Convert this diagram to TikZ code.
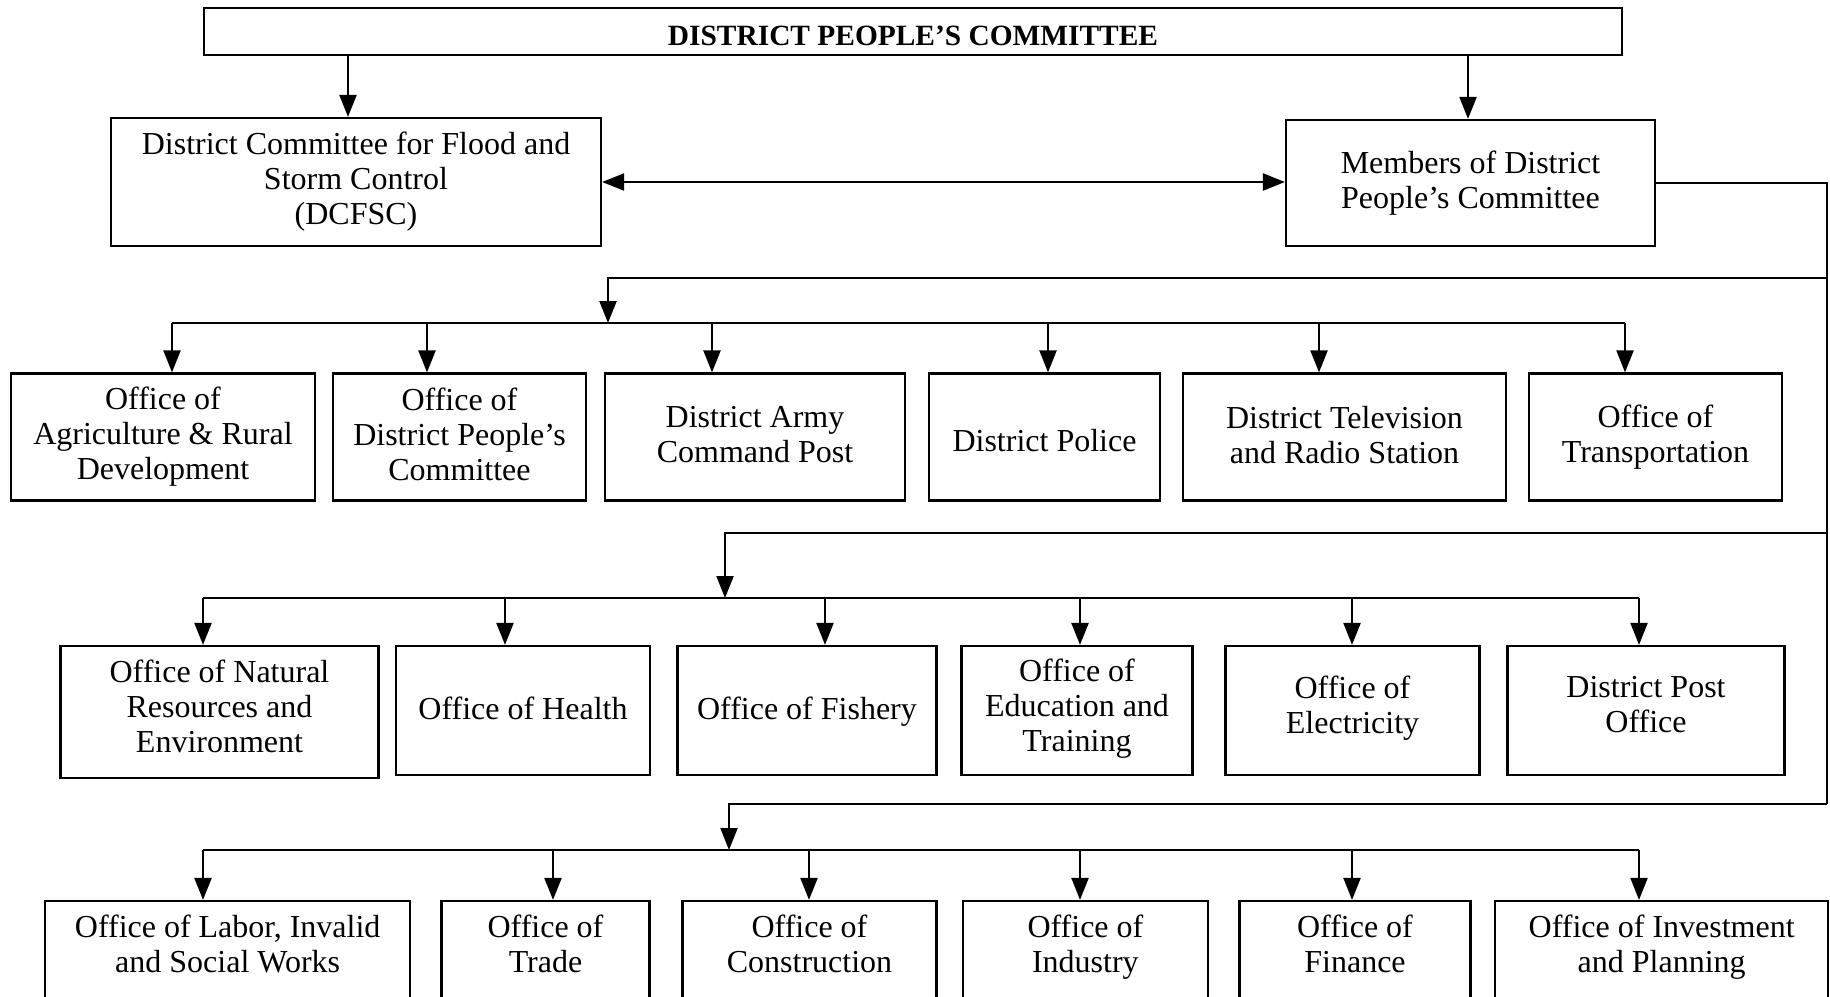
\documentclass[tikz,border=0pt]{standalone}
\usepackage{fontspec}
\setmainfont{Liberation Serif}
\usetikzlibrary{arrows.meta}
\tikzset{
  thgt/.store in=\mythgt, thgt=34pt,
  bdep/.store in=\mybdep, bdep=5pt,
  box/.style={draw, line width=2.2pt, align=center, inner sep=0pt,
    font=\fontsize{32}{35}\selectfont,
    execute at begin node={\rule{0pt}{\mythgt}},
    execute at end node={\rule[-\mybdep]{0pt}{\mybdep}}},
  rowtwo/.style={thgt=29.5pt, bdep=11.5pt},
  rowthree/.style={thgt=29.5pt, bdep=15.5pt},
  ln/.style={line width=2.2pt},
  arr/.style={line width=2.2pt, -{Triangle[length=22pt,width=17pt]}},
  darr/.style={line width=2.2pt, {Triangle[length=22pt,width=17pt]}-{Triangle[length=22pt,width=17pt]}},
}
\begin{document}
\begin{tikzpicture}[x=1pt,y=-1pt]
\useasboundingbox (0,0) rectangle (1830,996);
% top level
\node[box, font=\bfseries\fontsize{29.4}{35}\selectfont, thgt=28.4pt, bdep=0pt, minimum width=1418pt, minimum height=47pt] (top) at (913,31.5) {DISTRICT PEOPLE’S COMMITTEE};
\node[box, minimum width=490pt, minimum height=128pt] (dc) at (356,182) {District Committee for Flood and\\Storm Control\\(DCFSC)};
\node[box, minimum width=369pt, minimum height=126pt] (mem) at (1470.5,183) {Members of District\\People’s Committee};
\draw[arr] (348,0 |- top.south) -- (348,0 |- dc.north);
\draw[arr] (1468,0 |- top.south) -- (1468,0 |- mem.north);
\draw[darr] (dc.east) -- (dc.east -| mem.west);
% row 1
\node[box, minimum width=304pt, minimum height=127pt] (r11) at (163,437) {Office of\\Agriculture \& Rural\\Development};
\node[box, minimum width=253pt, minimum height=127pt] (r12) at (459.5,437) {Office of\\District People’s\\Committee};
\node[box, minimum width=300pt, minimum height=127pt] (r13) at (755,437) {District Army\\Command Post};
\node[box, minimum width=231pt, minimum height=127pt] (r14) at (1044.5,437) {District Police};
\node[box, minimum width=323pt, minimum height=127pt] (r15) at (1344.5,437) {District Television\\and Radio Station};
\node[box, minimum width=253pt, minimum height=127pt] (r16) at (1655.5,437) {Office of\\Transportation};
% row 2
\node[box, rowtwo, minimum width=318pt, minimum height=132pt] (r21) at (219.5,712) {Office of Natural\\Resources and\\Environment};
\node[box, rowtwo, minimum width=254pt, minimum height=129pt] (r22) at (523,710.5) {Office of Health};
\node[box, rowtwo, minimum width=259pt, minimum height=129pt] (r23) at (807,710.5) {Office of Fishery};
\node[box, rowtwo, minimum width=231pt, minimum height=129pt] (r24) at (1077,710.5) {Office of\\Education and\\Training};
\node[box, rowtwo, minimum width=254pt, minimum height=129pt] (r25) at (1352.5,710.5) {Office of\\Electricity};
\node[box, rowtwo, minimum width=277pt, minimum height=129pt] (r26) at (1646,710.5) {District Post\\Office};
% row 3
\node[box, rowthree, minimum width=365pt, minimum height=100pt] (r31) at (227.7,951) {Office of Labor, Invalid\\and Social Works};
\node[box, rowthree, minimum width=208pt, minimum height=100pt] (r32) at (545.5,951) {Office of\\Trade};
\node[box, rowthree, minimum width=254pt, minimum height=100pt] (r33) at (809.5,951) {Office of\\Construction};
\node[box, rowthree, minimum width=245pt, minimum height=100pt] (r34) at (1085.4,951) {Office of\\Industry};
\node[box, rowthree, minimum width=231pt, minimum height=100pt] (r35) at (1355,951) {Office of\\Finance};
\node[box, rowthree, minimum width=333pt, minimum height=100pt] (r36) at (1661.7,951) {Office of Investment\\and Planning};
% right trunk
\coordinate (rbot) at (1827,804);
\draw[ln] (mem.east) -| (rbot);
% branches
\coordinate (k1) at (608,278);
\coordinate (k2) at (725,533);
\coordinate (k3) at (729,804);
\coordinate (b1L) at (172,323); \coordinate (b1R) at (1625,323);
\coordinate (b2L) at (203,598); \coordinate (b2R) at (1639,598);
\coordinate (b3L) at (203,850); \coordinate (b3R) at (1639,850);
\draw[arr] (k1 -| rbot) -- (k1) -- (k1 |- b1L);
\draw[arr] (k2 -| rbot) -- (k2) -- (k2 |- b2L);
\draw[arr] (k3 -| rbot) -- (k3) -- (k3 |- b3L);
\draw[ln] (b1L) -- (b1R);
\draw[ln] (b2L) -- (b2R);
\draw[ln] (b3L) -- (b3R);
\foreach \x/\n in {172/r11, 427/r12, 712/r13, 1048/r14, 1319/r15, 1625/r16}
  \draw[arr] (\x,0 |- b1L) -- (\x,0 |- \n.north);
\foreach \x/\n in {203/r21, 505/r22, 825/r23, 1080/r24, 1352/r25, 1639/r26}
  \draw[arr] (\x,0 |- b2L) -- (\x,0 |- \n.north);
\foreach \x/\n in {203/r31, 553/r32, 809/r33, 1080/r34, 1352/r35, 1639/r36}
  \draw[arr] (\x,0 |- b3L) -- (\x,0 |- \n.north);
\end{tikzpicture}
\end{document}
